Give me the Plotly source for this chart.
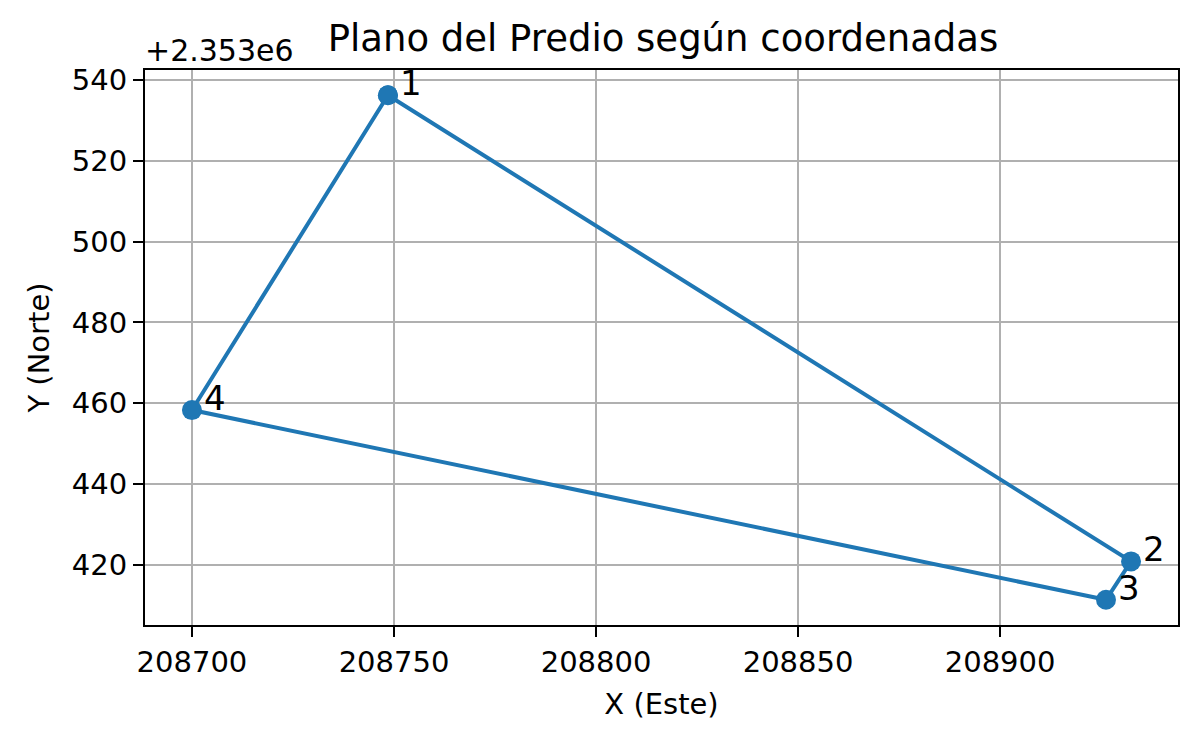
import plotly.graph_objects as go

# Vertices of the parcel (UTM coordinates)
labels = ["1", "2", "3", "4"]
este = [208748.5, 208932.4, 208926.2, 208700.0]
norte = [2353536.3, 2353420.8, 2353411.3, 2353458.3]

Y_OFFSET = 2353000
x_ticks = [208700, 208750, 208800, 208850, 208900]
y_ticks_rel = [420, 440, 460, 480, 500, 520, 540]

BLUE = "#1f77b4"
FONT = "DejaVu Sans"

# closed polygon
xs = este + [este[0]]
ys = norte + [norte[0]]

fig = go.Figure()
fig.add_trace(go.Scatter(
    x=xs, y=ys, mode="lines+markers",
    line=dict(color=BLUE, width=4),
    marker=dict(color=BLUE, size=20),
    hoverinfo="skip", showlegend=False,
))

for lab, xv, yv in zip(labels, este, norte):
    fig.add_annotation(
        x=xv, y=yv, xref="x", yref="y", text=lab, showarrow=False,
        xanchor="left", yanchor="bottom", xshift=10, yshift=-10,
        font=dict(family=FONT, size=34, color="black"),
    )

# offset text as in matplotlib
fig.add_annotation(
    x=0, y=1, xref="paper", yref="paper", text="+2.353e6", showarrow=False,
    xanchor="left", yanchor="bottom", xshift=-2, yshift=0,
    font=dict(family=FONT, size=30, color="black"),
)

xmin, xmax = min(este), max(este)
ymin, ymax = min(norte), max(norte)
mx = (xmax - xmin) * 0.05
my = (ymax - ymin) * 0.05

axis_common = dict(
    showline=True, linecolor="black", linewidth=2, mirror=True,
    ticks="outside", ticklen=10, tickwidth=2, tickcolor="black",
    showgrid=True, gridcolor="#b0b0b0", gridwidth=2,
    zeroline=False, tickfont=dict(family=FONT, size=29, color="black"),
)

fig.update_layout(
    width=1192, height=736,
    paper_bgcolor="white", plot_bgcolor="white",
    margin=dict(l=137, r=22, t=62, b=119),
    title=dict(text="Plano del Predio según coordenadas", x=0.5495, xanchor="center",
               y=0.942, yanchor="bottom",
               font=dict(family=FONT, size=37, color="black")),
    xaxis=dict(range=[xmin - mx, xmax + mx], tickvals=x_ticks,
               ticktext=[str(v) for v in x_ticks],
               title=dict(text="X (Este)", font=dict(family=FONT, size=29, color="black"), standoff=16),
               **axis_common),
    yaxis=dict(range=[ymin - my, ymax + my],
               tickvals=[Y_OFFSET + v for v in y_ticks_rel],
               ticktext=[str(v) for v in y_ticks_rel],
               title=dict(text="Y (Norte)", font=dict(family=FONT, size=29, color="black"), standoff=14),
               **axis_common),
)

fig.write_html("out.html")
